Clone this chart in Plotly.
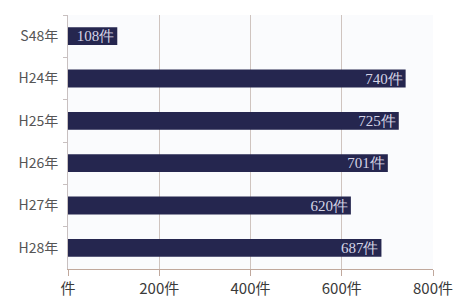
import plotly.graph_objects as go

categories = ["S48年", "H24年", "H25年", "H26年", "H27年", "H28年"]
values = [108, 740, 725, 701, 620, 687]
bar_labels = ["108件", "740件", "725件", "701件", "620件", "687件"]
x_tickvals = [0, 200, 400, 600, 800]
x_ticktext = ["件", "200件", "400件", "600件", "800件"]

fig = go.Figure(go.Bar(
    x=values, y=categories, orientation="h",
    marker=dict(color="#25264f", line=dict(width=0)),
    width=0.42,
    text=bar_labels, textposition="inside", insidetextanchor="end",
    constraintext="none", cliponaxis=False,
    textfont=dict(family="Liberation Serif, DejaVu Serif, serif", size=15, color="#d4d4e6"),
))

# the page body adds an 8px offset, so the figure is sized to compensate
fig.update_layout(
    width=458, height=300,
    margin=dict(l=60, r=33, t=7, b=39),
    paper_bgcolor="#ffffff", plot_bgcolor="#fafbfd",
    showlegend=False,
    font=dict(family="Noto Sans CJK JP, sans-serif"),
)
fig.update_xaxes(
    range=[0, 800], tickvals=x_tickvals, ticktext=x_ticktext,
    automargin=False,
    showgrid=True, gridcolor="#cfc4bf", gridwidth=1,
    showline=True, linecolor="#c0a89c", linewidth=1,
    ticks="outside", ticklen=6, tickcolor="#c0a89c",
    tickfont=dict(size=15, color="#3a3a3a"),
    zeroline=False,
)
fig.update_yaxes(
    autorange="reversed", tickson="boundaries", automargin=False,
    showline=True, linecolor="#c8c0c0", linewidth=1,
    ticks="outside", ticklen=4, tickcolor="#c8c0c0",
    ticklabelstandoff=6,
    tickfont=dict(size=14, color="#555555"),
    showgrid=False,
)

fig.write_html("out.html")
